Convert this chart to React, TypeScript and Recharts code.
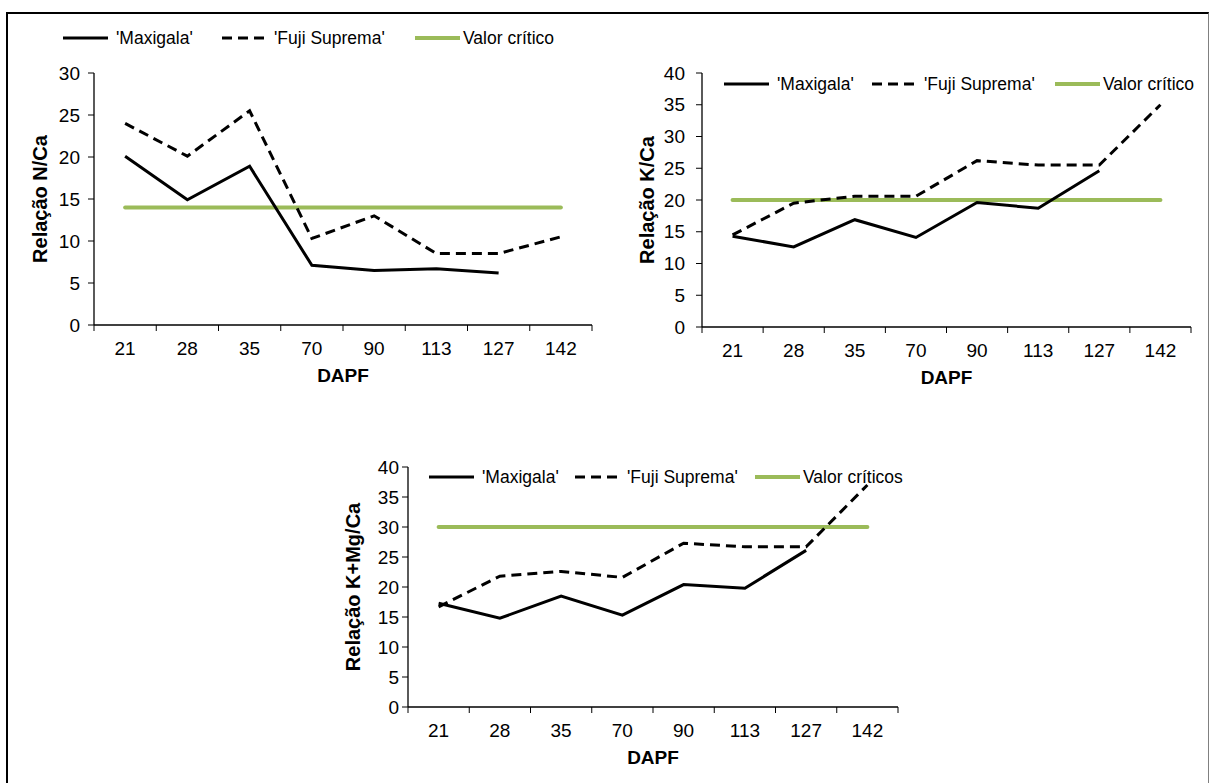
import { LineChart, Line, XAxis, YAxis, Legend } from "recharts";

const categories = ["21", "28", "35", "70", "90", "113", "127", "142"];

// Relação N/Ca
const nCaMaxigala = [20.1, 14.9, 18.9, 7.1, 6.5, 6.7, 6.2, null];
const nCaFuji = [24.0, 20.1, 25.5, 10.3, 13.0, 8.5, 8.5, 10.5];
const nCaCritico = [14, 14, 14, 14, 14, 14, 14, 14];

// Relação K/Ca
const kCaMaxigala = [14.3, 12.6, 16.9, 14.1, 19.6, 18.7, 24.6, null];
const kCaFuji = [14.5, 19.5, 20.6, 20.6, 26.2, 25.5, 25.5, 35.0];
const kCaCritico = [20, 20, 20, 20, 20, 20, 20, 20];

// Relação K+Mg/Ca
const kmgCaMaxigala = [17.3, 14.8, 18.5, 15.3, 20.4, 19.8, 26.1, null];
const kmgCaFuji = [16.7, 21.8, 22.6, 21.6, 27.3, 26.7, 26.7, 37.0];
const kmgCaCritico = [30, 30, 30, 30, 30, 30, 30, 30];

const ticks30 = [0, 5, 10, 15, 20, 25, 30];
const ticks40 = [0, 5, 10, 15, 20, 25, 30, 35, 40];
const xBounds = [0, 1, 2, 3, 4, 5, 6, 7, 8];

const FONT = "'Liberation Sans', Arial, sans-serif";
const GREEN = "#9BBB59";

function buildData(maxigala, fuji, critico) {
  return categories.map((c, i) => ({
    x: i + 0.5,
    label: c,
    maxigala: maxigala[i],
    fuji: fuji[i],
    critico: critico[i],
  }));
}

function LegendRow({ critName, offsets }) {
  const items = [
    { name: "'Maxigala'", color: "#000", width: 3, dash: undefined, textDx: 53 },
    { name: "'Fuji Suprema'", color: "#000", width: 3, dash: "10 6", textDx: 52 },
    { name: critName, color: GREEN, width: 4, dash: undefined, textDx: 48 },
  ];
  return (
    <svg width={560} height={24} style={{ display: "block", overflow: "visible" }}>
      {items.map((it, i) => (
        <g key={it.name}>
          <line
            x1={offsets[i]}
            x2={offsets[i] + 45}
            y1={12}
            y2={12}
            stroke={it.color}
            strokeWidth={it.width}
            strokeDasharray={it.dash}
          />
          <text
            x={offsets[i] + it.textDx}
            y={12}
            dy="0.35em"
            fontSize={17.5}
            fill="#000"
            fontFamily={FONT}
          >
            {it.name}
          </text>
        </g>
      ))}
    </svg>
  );
}

function Panel({ data, box, margin, yAxisWidth, yMax, yTicks, yLabel, yTickMargin, critName, legendPos, legendOffsets }) {
  const plotW = box.width - margin.left - margin.right - yAxisWidth;
  const half = plotW / 16;
  const renderTick = (props) => {
    const i = props.payload.value;
    if (i >= categories.length) return <g />;
    return (
      <text
        x={props.x + half}
        y={props.y}
        dy="0.71em"
        textAnchor="middle"
        fontSize={19}
        fill="#000"
        fontFamily={FONT}
      >
        {categories[i]}
      </text>
    );
  };
  return (
    <div style={{ position: "absolute", left: box.left, top: box.top }}>
      <LineChart width={box.width} height={box.height} data={data} margin={margin} style={{ fontFamily: FONT, overflow: "visible" }}>
        <XAxis
          type="number"
          dataKey="x"
          domain={[0, 8]}
          ticks={xBounds}
          interval={0}
          height={62}
          tick={renderTick}
          tickSize={6}
          tickMargin={11}
          stroke="#000"
          tickLine={{ stroke: "#000" }}
          axisLine={{ stroke: "#000", strokeWidth: 1.3 }}
          label={{
            value: "DAPF",
            position: "insideBottom",
            offset: 5,
            style: { fontWeight: "bold", fontSize: 19, fill: "#000", fontFamily: FONT },
          }}
        />
        <YAxis
          type="number"
          domain={[0, yMax]}
          ticks={yTicks}
          interval={0}
          width={yAxisWidth}
          tickSize={6}
          tickMargin={yTickMargin}
          stroke="#000"
          tick={{ fill: "#000", fontSize: 19, fontFamily: FONT }}
          tickLine={{ stroke: "#000" }}
          axisLine={{ stroke: "#000", strokeWidth: 1.3 }}
          label={{
            value: yLabel,
            angle: -90,
            position: "insideLeft",
            offset: 5,
            style: { textAnchor: "middle", fontWeight: "bold", fontSize: 20, fill: "#000", fontFamily: FONT },
          }}
        />
        <Legend
          layout="horizontal"
          verticalAlign="middle"
          align="center"
          wrapperStyle={{ left: legendPos.left, top: legendPos.top, width: 560, height: 24 }}
          content={() => <LegendRow critName={critName} offsets={legendOffsets} />}
        />
        <Line
          type="linear"
          dataKey="critico"
          name={critName}
          stroke={GREEN}
          strokeWidth={4}
          strokeLinecap="round"
          dot={false}
          activeDot={false}
          isAnimationActive={false}
        />
        <Line
          type="linear"
          dataKey="fuji"
          name="'Fuji Suprema'"
          stroke="#000"
          strokeWidth={3}
          strokeDasharray="10 6"
          dot={false}
          activeDot={false}
          isAnimationActive={false}
        />
        <Line
          type="linear"
          dataKey="maxigala"
          name="'Maxigala'"
          stroke="#000"
          strokeWidth={3}
          dot={false}
          activeDot={false}
          connectNulls={false}
          isAnimationActive={false}
        />
      </LineChart>
    </div>
  );
}

export default function App() {
  return (
    <div
      style={{
        position: "fixed",
        left: 0,
        top: 0,
        width: 1210,
        height: 783,
        overflow: "hidden",
        background: "#fff",
        fontFamily: FONT,
      }}
    >
      <div
        style={{
          position: "absolute",
          left: 6,
          top: 12,
          width: 1200,
          height: 800,
          borderTop: "2px solid #000",
          borderLeft: "2px solid #000",
          borderRight: "1px solid #808080",
        }}
      />
      <Panel
        data={buildData(nCaMaxigala, nCaFuji, nCaCritico)}
        box={{ left: 0, top: 0, width: 600, height: 400 }}
        margin={{ top: 73, right: 8, bottom: 13, left: 35 }}
        yAxisWidth={59}
        yMax={30}
        yTicks={ticks30}
        yLabel="Relação N/Ca"
        yTickMargin={8}
        critName="Valor crítico"
        legendPos={{ left: 63, top: 26 }}
        legendOffsets={[0, 159, 352]}
      />
      <Panel
        data={buildData(kCaMaxigala, kCaFuji, kCaCritico)}
        box={{ left: 600, top: 0, width: 610, height: 400 }}
        margin={{ top: 73, right: 19, bottom: 11, left: 42 }}
        yAxisWidth={60}
        yMax={40}
        yTicks={ticks40}
        yLabel="Relação K/Ca"
        yTickMargin={11}
        critName="Valor crítico"
        legendPos={{ left: 124, top: 72 }}
        legendOffsets={[0, 148, 331]}
      />
      <Panel
        data={buildData(kmgCaMaxigala, kmgCaFuji, kmgCaCritico)}
        box={{ left: 300, top: 400, width: 610, height: 383 }}
        margin={{ top: 67, right: 12, bottom: 14, left: 48 }}
        yAxisWidth={60}
        yMax={40}
        yTicks={ticks40}
        yLabel="Relação K+Mg/Ca"
        yTickMargin={3}
        critName="Valor críticos"
        legendPos={{ left: 129, top: 65 }}
        legendOffsets={[0, 146, 326]}
      />
    </div>
  );
}
